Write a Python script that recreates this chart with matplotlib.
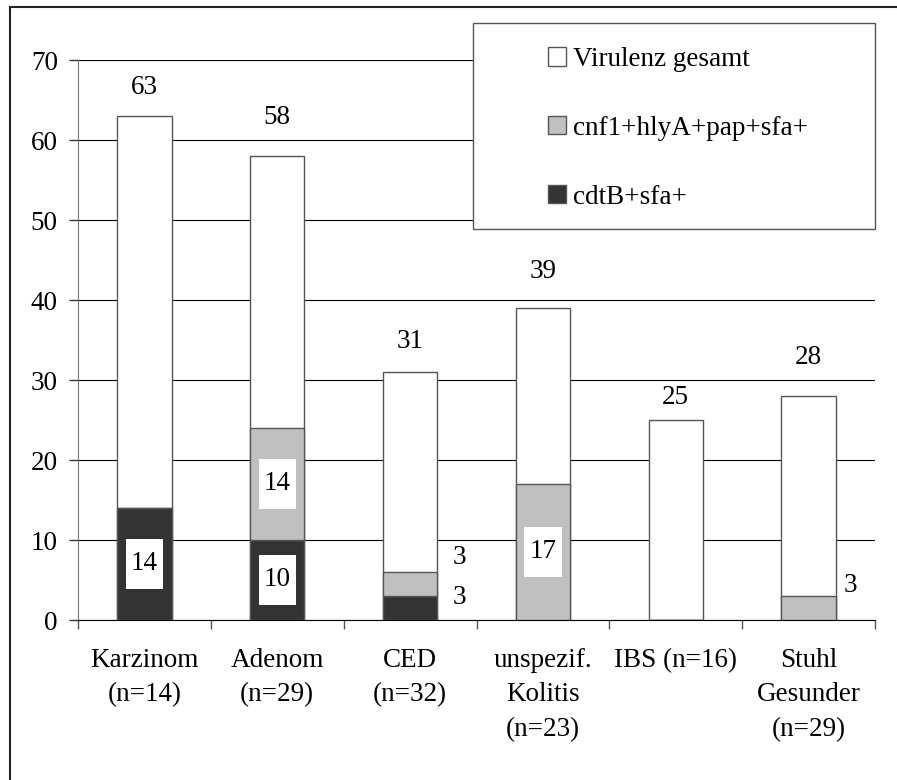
import matplotlib.pyplot as plt
from matplotlib.lines import Line2D
from matplotlib.patches import Patch, Rectangle
import numpy as np

plt.rcParams['font.family'] = ['Liberation Serif', 'DejaVu Serif']
plt.rcParams['font.size'] = 19.5

categories = ['Karzinom\n(n=14)', 'Adenom\n(n=29)', 'CED\n(n=32)',
              'unspezif.\nKolitis\n(n=23)', 'IBS (n=16)', 'Stuhl\nGesunder\n(n=29)']
virulenz_gesamt = [63, 58, 31, 39, 25, 28]
cnf1_hlya = [0, 14, 3, 17, 0, 3]
cdtb_sfa = [14, 10, 3, 0, 0, 0]
series_names = ['Virulenz gesamt', 'cnf1+hlyA+pap+sfa+', 'cdtB+sfa+']

# pixel offsets of the total labels above each bar
top_offsets = [28, 39, 30, 37, 23, 39]

WHITE = '#ffffff'
GREY = '#c0c0c0'
DARK = '#333333'
EDGE = '#555555'

W, H = 897, 780
fig = plt.figure(figsize=(W / 100, H / 100), dpi=100)
ax = fig.add_axes([78 / W, (H - 620) / H, (875 - 78) / W, (620 - 60) / H])

x = np.arange(len(categories))
width = 0.41

ax.bar(x, virulenz_gesamt, width, color=WHITE, edgecolor=EDGE, linewidth=1, zorder=2)
ax.bar(x, cdtb_sfa, width, color=DARK, edgecolor=EDGE, linewidth=1, zorder=3)
ax.bar(x, cnf1_hlya, width, bottom=cdtb_sfa, color=GREY, edgecolor=EDGE,
       linewidth=1, zorder=3)

px = 0.72  # points per pixel at 100 dpi

# totals above the bars
for xi, v, off in zip(x, virulenz_gesamt, top_offsets):
    ax.annotate(str(v), (xi, v), xytext=(0, off * px), textcoords='offset points',
                ha='center', va='center')

# segment labels: large ones in white boxes inside, small ones beside the bar
small = {(2, 'cnf1'): (22, 26), (2, 'cdtb'): (22, 11), (5, 'cnf1'): (15, 23)}
for i in x:
    segs = [('cdtb', 0, cdtb_sfa[i]), ('cnf1', cdtb_sfa[i], cnf1_hlya[i])]
    for key, base, v in segs:
        if v == 0:
            continue
        mid = base + v / 2
        if v >= 10:
            # white box a bit taller than the text
            ax.add_patch(Rectangle((i - 0.14, mid - 3.1), 0.28, 6.2,
                                   facecolor='white', edgecolor='none', zorder=4))
            ax.text(i, mid, str(v), ha='center', va='center', zorder=5)
        else:
            dx, dy = small[(i, key)]
            ax.annotate(str(v), (i + width / 2, mid),
                        xytext=(dx * px, dy * px), textcoords='offset points',
                        ha='center', va='center', zorder=4,
                        bbox=dict(boxstyle='square,pad=0.1', facecolor='white',
                                  edgecolor='none'))

ax.set_ylim(0, 70)
ax.set_xlim(-0.5, len(categories) - 0.5)
ax.set_yticks(range(0, 71, 10))
ax.yaxis.grid(True, color='black', linewidth=0.8, zorder=0)
ax.set_axisbelow(True)

ax.set_xticks(x)
ax.set_xticklabels(categories, va='top', linespacing=1.5)
ax.set_xticks(np.arange(-0.5, len(categories), 1), minor=True)
ax.tick_params(axis='x', which='major', length=0, pad=20)
ax.tick_params(axis='x', which='minor', length=6.5, color='#555555', width=1)
ax.tick_params(axis='y', length=6.5, color='#333333', width=1, pad=8)

for s in ['top', 'right']:
    ax.spines[s].set_visible(False)
ax.spines['left'].set_color('#777777')
ax.spines['bottom'].set_color('black')

# legend inside a separate box
fig.add_artist(Rectangle((473 / W, 1 - 229 / H), (875 - 473) / W, (229 - 23) / H,
                         transform=fig.transFigure, facecolor='white',
                         edgecolor='#555555', linewidth=1, zorder=5))
handles = [Patch(facecolor=c, edgecolor=EDGE, linewidth=1)
           for c in [WHITE, GREY, DARK]]
leg = fig.legend(handles, series_names, loc='upper left',
                 bbox_to_anchor=(548 / W, 1 - 47 / H), frameon=False,
                 borderpad=0, borderaxespad=0, handlelength=0.66,
                 handleheight=0.66, handletextpad=0.28, labelspacing=1.62)
leg.set_zorder(6)

# outer frame lines
fig.add_artist(Line2D([10 / W, 10 / W], [0, 1 - 7 / H], color='#222222', linewidth=1.5))
fig.add_artist(Line2D([10 / W, 1], [1 - 7 / H, 1 - 7 / H], color='#222222', linewidth=1.5))

fig.savefig('out.png', dpi=100)
